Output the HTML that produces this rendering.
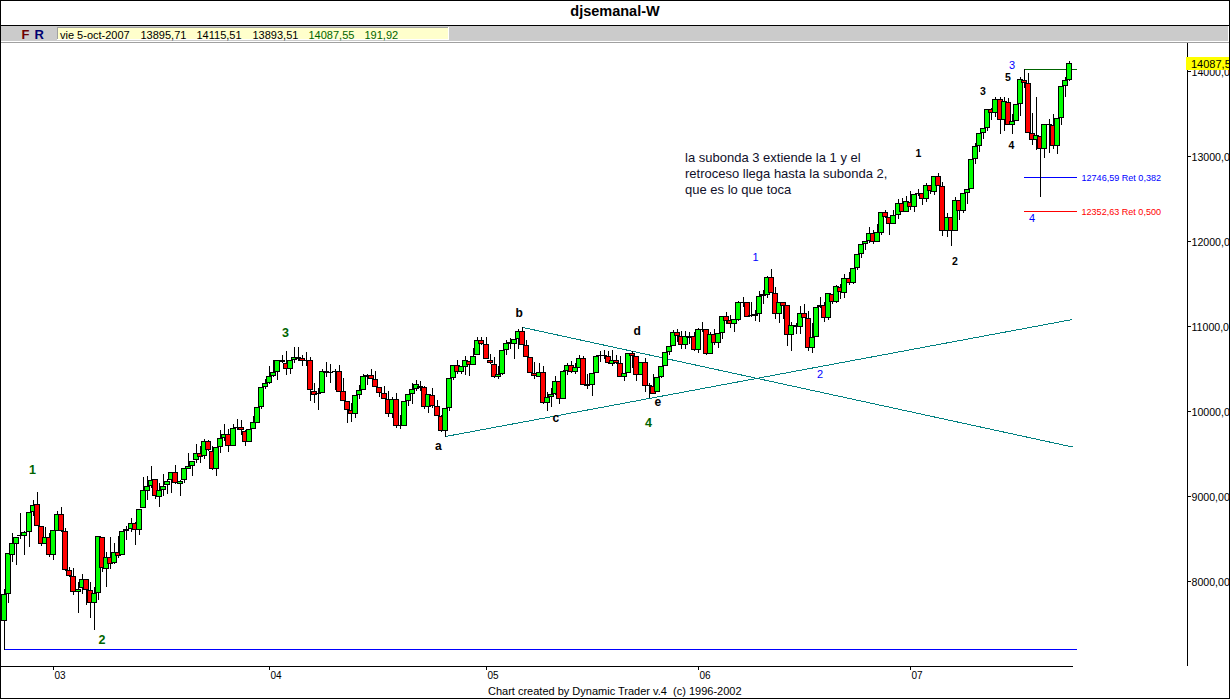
<!DOCTYPE html>
<html><head><meta charset="utf-8"><title>djsemanal-W</title>
<style>
html,body{margin:0;padding:0;background:#fff;}
body{width:1230px;height:699px;overflow:hidden;position:relative;font-family:"Liberation Sans",sans-serif;}
svg{position:absolute;left:0;top:0;display:block}
svg text{font-family:"Liberation Sans",sans-serif;}
</style></head><body>
<svg width="1230" height="699" viewBox="0 0 1230 699" shape-rendering="crispEdges">
<rect x="0" y="0" width="1230" height="699" fill="#fff"/>
<!-- toolbar -->
<rect x="1" y="26" width="1227" height="15" fill="#CBCBCB"/>
<rect x="1228" y="26" width="1" height="16" fill="#fff"/>
<rect x="1" y="41" width="1228" height="1" fill="#fff"/>
<rect x="1" y="42" width="1228" height="1" fill="#A0A0A0"/>
<rect x="57" y="27" width="391" height="12" fill="#A0A0A0"/>
<rect x="58" y="28" width="390" height="11" fill="#FFFFCC"/>
<rect x="448" y="27" width="1" height="13" fill="#fff"/>
<rect x="57" y="39" width="392" height="1" fill="#fff"/>
<rect x="0" y="25" width="1230" height="1" fill="#000"/>
<!-- frame -->
<rect x="0" y="0" width="1230" height="1" fill="#000"/>
<rect x="0" y="0" width="1" height="699" fill="#000"/>
<rect x="1229" y="0" width="1" height="699" fill="#000"/>
<rect x="0" y="698" width="1230" height="1" fill="#000"/>
<text x="615" y="16" font-size="14.5" font-weight="bold" text-anchor="middle" fill="#000">djsemanal-W</text>
<text x="21.5" y="39" font-size="13" font-weight="bold" fill="#6E0000">F</text>
<text x="34.5" y="39" font-size="13" font-weight="bold" fill="#000070">R</text>
<g font-size="11" fill="#000">
<text x="60" y="38.5">vie 5-oct-2007</text>
<text x="140.5" y="38.5">13895,71</text>
<text x="196.5" y="38.5">14115,51</text>
<text x="252.5" y="38.5">13893,51</text>
<text x="308.5" y="38.5" fill="#006400">14087,55</text>
<text x="364.5" y="38.5" fill="#006400">191,92</text>
</g>
<!-- right axis -->
<rect x="1187" y="43" width="1" height="623" fill="#000"/>
<g fill="#000">
<rect x="1188" y="71" width="3" height="1"/><rect x="1188" y="156" width="3" height="1"/><rect x="1188" y="241" width="3" height="1"/><rect x="1188" y="326" width="3" height="1"/><rect x="1188" y="411" width="3" height="1"/><rect x="1188" y="496" width="3" height="1"/><rect x="1188" y="581" width="3" height="1"/>
</g>
<g font-size="10.6" fill="#000">
<text x="1191.5" y="76">14000,00</text><text x="1191.5" y="161">13000,00</text><text x="1191.5" y="246">12000,00</text><text x="1191.5" y="331">11000,00</text><text x="1191.5" y="416">10000,00</text><text x="1191.5" y="501">9000,00</text><text x="1191.5" y="586">8000,00</text>
</g>
<rect x="1186" y="57" width="43" height="13" fill="#FFFF00"/>
<text x="1191" y="67.5" font-size="11" fill="#000">14087,55</text>
<!-- x axis -->
<rect x="0" y="666" width="1073" height="1" fill="#000"/>
<g fill="#000">
<rect x="53" y="667" width="1" height="3"/><rect x="269" y="667" width="1" height="3"/><rect x="486" y="667" width="1" height="3"/><rect x="698" y="667" width="1" height="3"/><rect x="910" y="667" width="1" height="3"/>
</g>
<g font-size="10" fill="#000">
<text x="54.5" y="679">03</text><text x="270.5" y="679">04</text><text x="487.5" y="679">05</text><text x="699.5" y="679">06</text><text x="911.5" y="679">07</text>
</g>
<text x="488" y="695" font-size="11" fill="#000" xml:space="preserve">Chart created by Dynamic Trader v.4  (c) 1996-2002</text>
<!-- drawings -->
<rect x="4" y="649" width="1073" height="1" fill="#0000FF"/>
<g>
<line x1="445.5" y1="436.5" x2="1072.5" y2="319.5" stroke="#008080" stroke-width="1"/>
<line x1="523" y1="327.5" x2="1072.5" y2="447" stroke="#008080" stroke-width="1"/>
</g>
<rect x="1024" y="69" width="53" height="1" fill="#006400"/>
<rect x="1024" y="177" width="53" height="1" fill="#0000FF"/>
<rect x="1024" y="211" width="53" height="1" fill="#FF0000"/>
<!-- candles -->
<g fill="#000">
<rect x="4" y="589" width="1" height="61"/>
<rect x="1" y="594" width="6" height="27"/>
<rect x="2" y="595" width="4" height="25" fill="#00FF00"/>
<rect x="8" y="553" width="1" height="50"/>
<rect x="5" y="553" width="6" height="41"/>
<rect x="6" y="554" width="4" height="39" fill="#00FF00"/>
<rect x="12" y="533" width="1" height="29"/>
<rect x="9" y="543" width="6" height="12"/>
<rect x="10" y="544" width="4" height="10" fill="#00FF00"/>
<rect x="16" y="537" width="1" height="28"/>
<rect x="13" y="537" width="6" height="7"/>
<rect x="14" y="538" width="4" height="5" fill="#00FF00"/>
<rect x="20" y="513" width="1" height="26"/>
<rect x="17" y="535" width="6" height="1"/>
<rect x="24" y="531" width="1" height="24"/>
<rect x="21" y="532" width="6" height="4"/>
<rect x="22" y="533" width="4" height="2" fill="#00FF00"/>
<rect x="29" y="512" width="1" height="35"/>
<rect x="26" y="512" width="6" height="20"/>
<rect x="27" y="513" width="4" height="18" fill="#00FF00"/>
<rect x="33" y="500" width="1" height="16"/>
<rect x="30" y="505" width="6" height="7"/>
<rect x="31" y="506" width="4" height="5" fill="#00FF00"/>
<rect x="37" y="492" width="1" height="34"/>
<rect x="34" y="504" width="6" height="22"/>
<rect x="35" y="505" width="4" height="20" fill="#FF0000"/>
<rect x="41" y="526" width="1" height="20"/>
<rect x="38" y="526" width="6" height="18"/>
<rect x="39" y="527" width="4" height="16" fill="#FF0000"/>
<rect x="45" y="527" width="1" height="17"/>
<rect x="42" y="537" width="6" height="7"/>
<rect x="43" y="538" width="4" height="5" fill="#00FF00"/>
<rect x="49" y="533" width="1" height="24"/>
<rect x="46" y="537" width="6" height="18"/>
<rect x="47" y="538" width="4" height="16" fill="#FF0000"/>
<rect x="53" y="530" width="1" height="30"/>
<rect x="50" y="530" width="6" height="25"/>
<rect x="51" y="531" width="4" height="23" fill="#00FF00"/>
<rect x="57" y="511" width="1" height="20"/>
<rect x="54" y="514" width="6" height="17"/>
<rect x="55" y="515" width="4" height="15" fill="#00FF00"/>
<rect x="61" y="507" width="1" height="25"/>
<rect x="58" y="514" width="6" height="17"/>
<rect x="59" y="515" width="4" height="15" fill="#FF0000"/>
<rect x="65" y="528" width="1" height="43"/>
<rect x="62" y="531" width="6" height="39"/>
<rect x="63" y="532" width="4" height="37" fill="#FF0000"/>
<rect x="69" y="567" width="1" height="10"/>
<rect x="66" y="570" width="6" height="6"/>
<rect x="67" y="571" width="4" height="4" fill="#FF0000"/>
<rect x="73" y="568" width="1" height="27"/>
<rect x="70" y="576" width="6" height="16"/>
<rect x="71" y="577" width="4" height="14" fill="#FF0000"/>
<rect x="78" y="582" width="1" height="31"/>
<rect x="75" y="589" width="6" height="3"/>
<rect x="76" y="590" width="4" height="1" fill="#00FF00"/>
<rect x="82" y="574" width="1" height="20"/>
<rect x="79" y="579" width="6" height="9"/>
<rect x="80" y="580" width="4" height="7" fill="#00FF00"/>
<rect x="86" y="579" width="1" height="26"/>
<rect x="83" y="579" width="6" height="11"/>
<rect x="84" y="580" width="4" height="9" fill="#FF0000"/>
<rect x="90" y="582" width="1" height="36"/>
<rect x="87" y="590" width="6" height="13"/>
<rect x="88" y="591" width="4" height="11" fill="#FF0000"/>
<rect x="94" y="587" width="1" height="43"/>
<rect x="91" y="593" width="6" height="10"/>
<rect x="92" y="594" width="4" height="8" fill="#00FF00"/>
<rect x="98" y="536" width="1" height="64"/>
<rect x="95" y="536" width="6" height="57"/>
<rect x="96" y="537" width="4" height="55" fill="#00FF00"/>
<rect x="102" y="537" width="1" height="35"/>
<rect x="99" y="537" width="6" height="31"/>
<rect x="100" y="538" width="4" height="29" fill="#FF0000"/>
<rect x="106" y="552" width="1" height="35"/>
<rect x="103" y="557" width="6" height="12"/>
<rect x="104" y="558" width="4" height="10" fill="#00FF00"/>
<rect x="110" y="537" width="1" height="32"/>
<rect x="107" y="557" width="6" height="7"/>
<rect x="108" y="558" width="4" height="5" fill="#FF0000"/>
<rect x="114" y="543" width="1" height="21"/>
<rect x="111" y="552" width="6" height="11"/>
<rect x="112" y="553" width="4" height="9" fill="#00FF00"/>
<rect x="118" y="536" width="1" height="22"/>
<rect x="115" y="552" width="6" height="4"/>
<rect x="116" y="553" width="4" height="2" fill="#FF0000"/>
<rect x="122" y="531" width="1" height="24"/>
<rect x="119" y="531" width="6" height="24"/>
<rect x="120" y="532" width="4" height="22" fill="#00FF00"/>
<rect x="126" y="526" width="1" height="14"/>
<rect x="123" y="529" width="6" height="2"/>
<rect x="131" y="518" width="1" height="14"/>
<rect x="128" y="523" width="6" height="6"/>
<rect x="129" y="524" width="4" height="4" fill="#00FF00"/>
<rect x="135" y="522" width="1" height="23"/>
<rect x="132" y="523" width="6" height="7"/>
<rect x="133" y="524" width="4" height="5" fill="#FF0000"/>
<rect x="139" y="509" width="1" height="26"/>
<rect x="136" y="509" width="6" height="21"/>
<rect x="137" y="510" width="4" height="19" fill="#00FF00"/>
<rect x="143" y="477" width="1" height="31"/>
<rect x="140" y="490" width="6" height="18"/>
<rect x="141" y="491" width="4" height="16" fill="#00FF00"/>
<rect x="147" y="476" width="1" height="24"/>
<rect x="144" y="486" width="6" height="5"/>
<rect x="145" y="487" width="4" height="3" fill="#00FF00"/>
<rect x="151" y="466" width="1" height="22"/>
<rect x="148" y="480" width="6" height="6"/>
<rect x="149" y="481" width="4" height="4" fill="#00FF00"/>
<rect x="155" y="479" width="1" height="20"/>
<rect x="152" y="479" width="6" height="17"/>
<rect x="153" y="480" width="4" height="15" fill="#FF0000"/>
<rect x="159" y="483" width="1" height="24"/>
<rect x="156" y="490" width="6" height="7"/>
<rect x="157" y="491" width="4" height="5" fill="#00FF00"/>
<rect x="163" y="474" width="1" height="22"/>
<rect x="160" y="486" width="6" height="4"/>
<rect x="161" y="487" width="4" height="2" fill="#00FF00"/>
<rect x="167" y="479" width="1" height="15"/>
<rect x="164" y="481" width="6" height="4"/>
<rect x="165" y="482" width="4" height="2" fill="#00FF00"/>
<rect x="171" y="472" width="1" height="21"/>
<rect x="168" y="472" width="6" height="8"/>
<rect x="169" y="473" width="4" height="6" fill="#00FF00"/>
<rect x="175" y="465" width="1" height="19"/>
<rect x="172" y="472" width="6" height="11"/>
<rect x="173" y="473" width="4" height="9" fill="#FF0000"/>
<rect x="180" y="480" width="1" height="16"/>
<rect x="177" y="481" width="6" height="3"/>
<rect x="178" y="482" width="4" height="1" fill="#00FF00"/>
<rect x="184" y="468" width="1" height="15"/>
<rect x="181" y="468" width="6" height="12"/>
<rect x="182" y="469" width="4" height="10" fill="#00FF00"/>
<rect x="188" y="453" width="1" height="16"/>
<rect x="185" y="466" width="6" height="3"/>
<rect x="186" y="467" width="4" height="1" fill="#00FF00"/>
<rect x="192" y="461" width="1" height="15"/>
<rect x="189" y="461" width="6" height="5"/>
<rect x="190" y="462" width="4" height="3" fill="#00FF00"/>
<rect x="196" y="444" width="1" height="19"/>
<rect x="193" y="453" width="6" height="7"/>
<rect x="194" y="454" width="4" height="5" fill="#00FF00"/>
<rect x="200" y="446" width="1" height="17"/>
<rect x="197" y="453" width="6" height="4"/>
<rect x="198" y="454" width="4" height="2" fill="#FF0000"/>
<rect x="204" y="439" width="1" height="20"/>
<rect x="201" y="441" width="6" height="15"/>
<rect x="202" y="442" width="4" height="13" fill="#00FF00"/>
<rect x="208" y="440" width="1" height="11"/>
<rect x="205" y="441" width="6" height="9"/>
<rect x="206" y="442" width="4" height="7" fill="#FF0000"/>
<rect x="212" y="446" width="1" height="24"/>
<rect x="209" y="451" width="6" height="18"/>
<rect x="210" y="452" width="4" height="16" fill="#FF0000"/>
<rect x="216" y="447" width="1" height="29"/>
<rect x="213" y="447" width="6" height="22"/>
<rect x="214" y="448" width="4" height="20" fill="#00FF00"/>
<rect x="220" y="430" width="1" height="23"/>
<rect x="217" y="438" width="6" height="9"/>
<rect x="218" y="439" width="4" height="7" fill="#00FF00"/>
<rect x="224" y="424" width="1" height="17"/>
<rect x="221" y="434" width="6" height="4"/>
<rect x="222" y="435" width="4" height="2" fill="#00FF00"/>
<rect x="228" y="429" width="1" height="23"/>
<rect x="225" y="434" width="6" height="12"/>
<rect x="226" y="435" width="4" height="10" fill="#FF0000"/>
<rect x="233" y="424" width="1" height="22"/>
<rect x="230" y="428" width="6" height="18"/>
<rect x="231" y="429" width="4" height="16" fill="#00FF00"/>
<rect x="237" y="419" width="1" height="11"/>
<rect x="234" y="427" width="6" height="1"/>
<rect x="241" y="420" width="1" height="15"/>
<rect x="238" y="427" width="6" height="3"/>
<rect x="239" y="428" width="4" height="1" fill="#FF0000"/>
<rect x="245" y="430" width="1" height="16"/>
<rect x="242" y="431" width="6" height="11"/>
<rect x="243" y="432" width="4" height="9" fill="#FF0000"/>
<rect x="249" y="429" width="1" height="13"/>
<rect x="246" y="429" width="6" height="13"/>
<rect x="247" y="430" width="4" height="11" fill="#00FF00"/>
<rect x="253" y="416" width="1" height="13"/>
<rect x="250" y="422" width="6" height="7"/>
<rect x="251" y="423" width="4" height="5" fill="#00FF00"/>
<rect x="257" y="407" width="1" height="16"/>
<rect x="254" y="407" width="6" height="16"/>
<rect x="255" y="408" width="4" height="14" fill="#00FF00"/>
<rect x="261" y="387" width="1" height="22"/>
<rect x="258" y="387" width="6" height="20"/>
<rect x="259" y="388" width="4" height="18" fill="#00FF00"/>
<rect x="265" y="379" width="1" height="10"/>
<rect x="262" y="383" width="6" height="4"/>
<rect x="263" y="384" width="4" height="2" fill="#00FF00"/>
<rect x="269" y="366" width="1" height="18"/>
<rect x="266" y="376" width="6" height="7"/>
<rect x="267" y="377" width="4" height="5" fill="#00FF00"/>
<rect x="273" y="360" width="1" height="17"/>
<rect x="270" y="372" width="6" height="4"/>
<rect x="271" y="373" width="4" height="2" fill="#00FF00"/>
<rect x="277" y="360" width="1" height="20"/>
<rect x="274" y="360" width="6" height="12"/>
<rect x="275" y="361" width="4" height="10" fill="#00FF00"/>
<rect x="282" y="355" width="1" height="8"/>
<rect x="279" y="360" width="6" height="2"/>
<rect x="286" y="351" width="1" height="24"/>
<rect x="283" y="363" width="6" height="6"/>
<rect x="284" y="364" width="4" height="4" fill="#FF0000"/>
<rect x="290" y="360" width="1" height="14"/>
<rect x="287" y="360" width="6" height="9"/>
<rect x="288" y="361" width="4" height="7" fill="#00FF00"/>
<rect x="294" y="347" width="1" height="16"/>
<rect x="291" y="357" width="6" height="3"/>
<rect x="292" y="358" width="4" height="1" fill="#00FF00"/>
<rect x="298" y="347" width="1" height="14"/>
<rect x="295" y="357" width="6" height="2"/>
<rect x="302" y="355" width="1" height="11"/>
<rect x="299" y="358" width="6" height="3"/>
<rect x="300" y="359" width="4" height="1" fill="#FF0000"/>
<rect x="306" y="352" width="1" height="14"/>
<rect x="303" y="360" width="6" height="1"/>
<rect x="310" y="357" width="1" height="44"/>
<rect x="307" y="360" width="6" height="30"/>
<rect x="308" y="361" width="4" height="28" fill="#FF0000"/>
<rect x="314" y="383" width="1" height="20"/>
<rect x="311" y="391" width="6" height="4"/>
<rect x="312" y="392" width="4" height="2" fill="#FF0000"/>
<rect x="318" y="388" width="1" height="22"/>
<rect x="315" y="393" width="6" height="1"/>
<rect x="322" y="369" width="1" height="24"/>
<rect x="319" y="371" width="6" height="22"/>
<rect x="320" y="372" width="4" height="20" fill="#00FF00"/>
<rect x="326" y="362" width="1" height="15"/>
<rect x="323" y="371" width="6" height="2"/>
<rect x="330" y="364" width="1" height="19"/>
<rect x="327" y="372" width="6" height="1"/>
<rect x="335" y="369" width="1" height="21"/>
<rect x="332" y="371" width="6" height="1"/>
<rect x="339" y="365" width="1" height="27"/>
<rect x="336" y="371" width="6" height="21"/>
<rect x="337" y="372" width="4" height="19" fill="#FF0000"/>
<rect x="343" y="378" width="1" height="23"/>
<rect x="340" y="391" width="6" height="10"/>
<rect x="341" y="392" width="4" height="8" fill="#FF0000"/>
<rect x="347" y="401" width="1" height="22"/>
<rect x="344" y="401" width="6" height="9"/>
<rect x="345" y="402" width="4" height="7" fill="#FF0000"/>
<rect x="351" y="403" width="1" height="19"/>
<rect x="348" y="410" width="6" height="4"/>
<rect x="349" y="411" width="4" height="2" fill="#FF0000"/>
<rect x="355" y="395" width="1" height="23"/>
<rect x="352" y="395" width="6" height="19"/>
<rect x="353" y="396" width="4" height="17" fill="#00FF00"/>
<rect x="359" y="385" width="1" height="14"/>
<rect x="356" y="390" width="6" height="5"/>
<rect x="357" y="391" width="4" height="3" fill="#00FF00"/>
<rect x="363" y="374" width="1" height="16"/>
<rect x="360" y="376" width="6" height="14"/>
<rect x="361" y="377" width="4" height="12" fill="#00FF00"/>
<rect x="367" y="374" width="1" height="11"/>
<rect x="364" y="375" width="6" height="2"/>
<rect x="371" y="369" width="1" height="10"/>
<rect x="368" y="375" width="6" height="4"/>
<rect x="369" y="376" width="4" height="2" fill="#FF0000"/>
<rect x="375" y="371" width="1" height="16"/>
<rect x="372" y="379" width="6" height="8"/>
<rect x="373" y="380" width="4" height="6" fill="#FF0000"/>
<rect x="379" y="387" width="1" height="10"/>
<rect x="376" y="387" width="6" height="6"/>
<rect x="377" y="388" width="4" height="4" fill="#FF0000"/>
<rect x="384" y="386" width="1" height="13"/>
<rect x="381" y="393" width="6" height="6"/>
<rect x="382" y="394" width="4" height="4" fill="#FF0000"/>
<rect x="388" y="391" width="1" height="26"/>
<rect x="385" y="399" width="6" height="15"/>
<rect x="386" y="400" width="4" height="13" fill="#FF0000"/>
<rect x="392" y="397" width="1" height="21"/>
<rect x="389" y="399" width="6" height="15"/>
<rect x="390" y="400" width="4" height="13" fill="#00FF00"/>
<rect x="396" y="393" width="1" height="35"/>
<rect x="393" y="399" width="6" height="27"/>
<rect x="394" y="400" width="4" height="25" fill="#FF0000"/>
<rect x="400" y="415" width="1" height="14"/>
<rect x="397" y="425" width="6" height="1"/>
<rect x="404" y="401" width="1" height="25"/>
<rect x="401" y="401" width="6" height="25"/>
<rect x="402" y="402" width="4" height="23" fill="#00FF00"/>
<rect x="408" y="394" width="1" height="12"/>
<rect x="405" y="394" width="6" height="7"/>
<rect x="406" y="395" width="4" height="5" fill="#00FF00"/>
<rect x="412" y="383" width="1" height="21"/>
<rect x="409" y="389" width="6" height="5"/>
<rect x="410" y="390" width="4" height="3" fill="#00FF00"/>
<rect x="416" y="380" width="1" height="11"/>
<rect x="413" y="384" width="6" height="5"/>
<rect x="414" y="385" width="4" height="3" fill="#00FF00"/>
<rect x="420" y="381" width="1" height="10"/>
<rect x="417" y="386" width="6" height="2"/>
<rect x="424" y="386" width="1" height="23"/>
<rect x="421" y="387" width="6" height="20"/>
<rect x="422" y="388" width="4" height="18" fill="#FF0000"/>
<rect x="428" y="394" width="1" height="19"/>
<rect x="425" y="394" width="6" height="13"/>
<rect x="426" y="395" width="4" height="11" fill="#00FF00"/>
<rect x="432" y="388" width="1" height="20"/>
<rect x="429" y="395" width="6" height="11"/>
<rect x="430" y="396" width="4" height="9" fill="#FF0000"/>
<rect x="437" y="400" width="1" height="16"/>
<rect x="434" y="406" width="6" height="10"/>
<rect x="435" y="407" width="4" height="8" fill="#FF0000"/>
<rect x="441" y="415" width="1" height="17"/>
<rect x="438" y="416" width="6" height="15"/>
<rect x="439" y="417" width="4" height="13" fill="#FF0000"/>
<rect x="445" y="408" width="1" height="29"/>
<rect x="442" y="408" width="6" height="23"/>
<rect x="443" y="409" width="4" height="21" fill="#00FF00"/>
<rect x="449" y="378" width="1" height="33"/>
<rect x="446" y="378" width="6" height="30"/>
<rect x="447" y="379" width="4" height="28" fill="#00FF00"/>
<rect x="453" y="365" width="1" height="15"/>
<rect x="450" y="365" width="6" height="13"/>
<rect x="451" y="366" width="4" height="11" fill="#00FF00"/>
<rect x="457" y="360" width="1" height="14"/>
<rect x="454" y="365" width="6" height="7"/>
<rect x="455" y="366" width="4" height="5" fill="#FF0000"/>
<rect x="461" y="366" width="1" height="8"/>
<rect x="458" y="366" width="6" height="6"/>
<rect x="459" y="367" width="4" height="4" fill="#00FF00"/>
<rect x="465" y="356" width="1" height="19"/>
<rect x="462" y="360" width="6" height="7"/>
<rect x="463" y="361" width="4" height="5" fill="#00FF00"/>
<rect x="469" y="361" width="1" height="15"/>
<rect x="466" y="361" width="6" height="4"/>
<rect x="467" y="362" width="4" height="2" fill="#FF0000"/>
<rect x="473" y="348" width="1" height="17"/>
<rect x="470" y="356" width="6" height="9"/>
<rect x="471" y="357" width="4" height="7" fill="#00FF00"/>
<rect x="477" y="337" width="1" height="18"/>
<rect x="474" y="340" width="6" height="15"/>
<rect x="475" y="341" width="4" height="13" fill="#00FF00"/>
<rect x="481" y="337" width="1" height="8"/>
<rect x="478" y="340" width="6" height="4"/>
<rect x="479" y="341" width="4" height="2" fill="#FF0000"/>
<rect x="486" y="337" width="1" height="22"/>
<rect x="483" y="344" width="6" height="15"/>
<rect x="484" y="345" width="4" height="13" fill="#FF0000"/>
<rect x="490" y="354" width="1" height="10"/>
<rect x="487" y="360" width="6" height="3"/>
<rect x="488" y="361" width="4" height="1" fill="#FF0000"/>
<rect x="494" y="357" width="1" height="21"/>
<rect x="491" y="364" width="6" height="13"/>
<rect x="492" y="365" width="4" height="11" fill="#FF0000"/>
<rect x="498" y="366" width="1" height="13"/>
<rect x="495" y="374" width="6" height="3"/>
<rect x="496" y="375" width="4" height="1" fill="#00FF00"/>
<rect x="502" y="350" width="1" height="25"/>
<rect x="499" y="350" width="6" height="24"/>
<rect x="500" y="351" width="4" height="22" fill="#00FF00"/>
<rect x="506" y="340" width="1" height="15"/>
<rect x="503" y="343" width="6" height="7"/>
<rect x="504" y="344" width="4" height="5" fill="#00FF00"/>
<rect x="510" y="338" width="1" height="11"/>
<rect x="507" y="342" width="6" height="2"/>
<rect x="514" y="339" width="1" height="20"/>
<rect x="511" y="339" width="6" height="5"/>
<rect x="512" y="340" width="4" height="3" fill="#00FF00"/>
<rect x="518" y="329" width="1" height="20"/>
<rect x="515" y="331" width="6" height="8"/>
<rect x="516" y="332" width="4" height="6" fill="#00FF00"/>
<rect x="522" y="327" width="1" height="18"/>
<rect x="519" y="331" width="6" height="14"/>
<rect x="520" y="332" width="4" height="12" fill="#FF0000"/>
<rect x="526" y="340" width="1" height="17"/>
<rect x="523" y="345" width="6" height="12"/>
<rect x="524" y="346" width="4" height="10" fill="#FF0000"/>
<rect x="530" y="357" width="1" height="16"/>
<rect x="527" y="357" width="6" height="16"/>
<rect x="528" y="358" width="4" height="14" fill="#FF0000"/>
<rect x="534" y="362" width="1" height="17"/>
<rect x="531" y="373" width="6" height="3"/>
<rect x="532" y="374" width="4" height="1" fill="#FF0000"/>
<rect x="539" y="363" width="1" height="14"/>
<rect x="536" y="372" width="6" height="5"/>
<rect x="537" y="373" width="4" height="3" fill="#00FF00"/>
<rect x="543" y="366" width="1" height="38"/>
<rect x="540" y="372" width="6" height="31"/>
<rect x="541" y="373" width="4" height="29" fill="#FF0000"/>
<rect x="547" y="392" width="1" height="19"/>
<rect x="544" y="397" width="6" height="6"/>
<rect x="545" y="398" width="4" height="4" fill="#00FF00"/>
<rect x="551" y="388" width="1" height="19"/>
<rect x="548" y="394" width="6" height="3"/>
<rect x="549" y="395" width="4" height="1" fill="#00FF00"/>
<rect x="555" y="376" width="1" height="19"/>
<rect x="552" y="381" width="6" height="13"/>
<rect x="553" y="382" width="4" height="11" fill="#00FF00"/>
<rect x="559" y="381" width="1" height="23"/>
<rect x="556" y="381" width="6" height="18"/>
<rect x="557" y="382" width="4" height="16" fill="#FF0000"/>
<rect x="563" y="370" width="1" height="29"/>
<rect x="560" y="371" width="6" height="28"/>
<rect x="561" y="372" width="4" height="26" fill="#00FF00"/>
<rect x="567" y="363" width="1" height="12"/>
<rect x="564" y="365" width="6" height="6"/>
<rect x="565" y="366" width="4" height="4" fill="#00FF00"/>
<rect x="571" y="361" width="1" height="12"/>
<rect x="568" y="365" width="6" height="7"/>
<rect x="569" y="366" width="4" height="5" fill="#FF0000"/>
<rect x="575" y="363" width="1" height="11"/>
<rect x="572" y="367" width="6" height="5"/>
<rect x="573" y="368" width="4" height="3" fill="#00FF00"/>
<rect x="579" y="355" width="1" height="13"/>
<rect x="576" y="358" width="6" height="10"/>
<rect x="577" y="359" width="4" height="8" fill="#00FF00"/>
<rect x="583" y="356" width="1" height="29"/>
<rect x="580" y="358" width="6" height="27"/>
<rect x="581" y="359" width="4" height="25" fill="#FF0000"/>
<rect x="587" y="374" width="1" height="15"/>
<rect x="584" y="384" width="6" height="2"/>
<rect x="592" y="373" width="1" height="23"/>
<rect x="589" y="373" width="6" height="12"/>
<rect x="590" y="374" width="4" height="10" fill="#00FF00"/>
<rect x="596" y="355" width="1" height="18"/>
<rect x="593" y="356" width="6" height="17"/>
<rect x="594" y="357" width="4" height="15" fill="#00FF00"/>
<rect x="600" y="351" width="1" height="11"/>
<rect x="597" y="355" width="6" height="1"/>
<rect x="604" y="350" width="1" height="9"/>
<rect x="601" y="355" width="6" height="1"/>
<rect x="608" y="351" width="1" height="13"/>
<rect x="605" y="356" width="6" height="7"/>
<rect x="606" y="357" width="4" height="5" fill="#FF0000"/>
<rect x="612" y="350" width="1" height="16"/>
<rect x="609" y="360" width="6" height="4"/>
<rect x="610" y="361" width="4" height="2" fill="#00FF00"/>
<rect x="616" y="355" width="1" height="9"/>
<rect x="613" y="360" width="6" height="3"/>
<rect x="614" y="361" width="4" height="1" fill="#FF0000"/>
<rect x="620" y="356" width="1" height="21"/>
<rect x="617" y="363" width="6" height="14"/>
<rect x="618" y="364" width="4" height="12" fill="#FF0000"/>
<rect x="624" y="373" width="1" height="8"/>
<rect x="621" y="373" width="6" height="4"/>
<rect x="622" y="374" width="4" height="2" fill="#00FF00"/>
<rect x="628" y="353" width="1" height="20"/>
<rect x="625" y="353" width="6" height="20"/>
<rect x="626" y="354" width="4" height="18" fill="#00FF00"/>
<rect x="632" y="351" width="1" height="17"/>
<rect x="629" y="353" width="6" height="3"/>
<rect x="630" y="354" width="4" height="1" fill="#FF0000"/>
<rect x="636" y="356" width="1" height="25"/>
<rect x="633" y="356" width="6" height="19"/>
<rect x="634" y="357" width="4" height="17" fill="#FF0000"/>
<rect x="641" y="362" width="1" height="13"/>
<rect x="638" y="362" width="6" height="13"/>
<rect x="639" y="363" width="4" height="11" fill="#00FF00"/>
<rect x="645" y="358" width="1" height="34"/>
<rect x="642" y="362" width="6" height="24"/>
<rect x="643" y="363" width="4" height="22" fill="#FF0000"/>
<rect x="649" y="383" width="1" height="15"/>
<rect x="646" y="385" width="6" height="1"/>
<rect x="653" y="374" width="1" height="20"/>
<rect x="650" y="386" width="6" height="8"/>
<rect x="651" y="387" width="4" height="6" fill="#FF0000"/>
<rect x="657" y="377" width="1" height="15"/>
<rect x="654" y="377" width="6" height="15"/>
<rect x="655" y="378" width="4" height="13" fill="#00FF00"/>
<rect x="661" y="366" width="1" height="12"/>
<rect x="658" y="366" width="6" height="11"/>
<rect x="659" y="367" width="4" height="9" fill="#00FF00"/>
<rect x="665" y="352" width="1" height="14"/>
<rect x="662" y="352" width="6" height="14"/>
<rect x="663" y="353" width="4" height="12" fill="#00FF00"/>
<rect x="669" y="346" width="1" height="9"/>
<rect x="666" y="346" width="6" height="6"/>
<rect x="667" y="347" width="4" height="4" fill="#00FF00"/>
<rect x="673" y="330" width="1" height="16"/>
<rect x="670" y="332" width="6" height="14"/>
<rect x="671" y="333" width="4" height="12" fill="#00FF00"/>
<rect x="677" y="329" width="1" height="13"/>
<rect x="674" y="332" width="6" height="4"/>
<rect x="675" y="333" width="4" height="2" fill="#FF0000"/>
<rect x="681" y="331" width="1" height="18"/>
<rect x="678" y="336" width="6" height="9"/>
<rect x="679" y="337" width="4" height="7" fill="#FF0000"/>
<rect x="685" y="331" width="1" height="18"/>
<rect x="682" y="336" width="6" height="9"/>
<rect x="683" y="337" width="4" height="7" fill="#00FF00"/>
<rect x="689" y="332" width="1" height="12"/>
<rect x="686" y="336" width="6" height="2"/>
<rect x="694" y="332" width="1" height="19"/>
<rect x="691" y="336" width="6" height="14"/>
<rect x="692" y="337" width="4" height="12" fill="#FF0000"/>
<rect x="698" y="328" width="1" height="25"/>
<rect x="695" y="329" width="6" height="21"/>
<rect x="696" y="330" width="4" height="19" fill="#00FF00"/>
<rect x="702" y="322" width="1" height="10"/>
<rect x="699" y="329" width="6" height="1"/>
<rect x="706" y="329" width="1" height="26"/>
<rect x="703" y="329" width="6" height="25"/>
<rect x="704" y="330" width="4" height="23" fill="#FF0000"/>
<rect x="710" y="332" width="1" height="22"/>
<rect x="707" y="334" width="6" height="20"/>
<rect x="708" y="335" width="4" height="18" fill="#00FF00"/>
<rect x="714" y="329" width="1" height="16"/>
<rect x="711" y="334" width="6" height="9"/>
<rect x="712" y="335" width="4" height="7" fill="#FF0000"/>
<rect x="718" y="333" width="1" height="15"/>
<rect x="715" y="333" width="6" height="10"/>
<rect x="716" y="334" width="4" height="8" fill="#00FF00"/>
<rect x="722" y="316" width="1" height="23"/>
<rect x="719" y="316" width="6" height="17"/>
<rect x="720" y="317" width="4" height="15" fill="#00FF00"/>
<rect x="726" y="312" width="1" height="12"/>
<rect x="723" y="316" width="6" height="5"/>
<rect x="724" y="317" width="4" height="3" fill="#FF0000"/>
<rect x="730" y="315" width="1" height="13"/>
<rect x="727" y="320" width="6" height="4"/>
<rect x="728" y="321" width="4" height="2" fill="#FF0000"/>
<rect x="734" y="319" width="1" height="13"/>
<rect x="731" y="319" width="6" height="5"/>
<rect x="732" y="320" width="4" height="3" fill="#00FF00"/>
<rect x="738" y="301" width="1" height="20"/>
<rect x="735" y="302" width="6" height="18"/>
<rect x="736" y="303" width="4" height="16" fill="#00FF00"/>
<rect x="743" y="297" width="1" height="10"/>
<rect x="740" y="302" width="6" height="1"/>
<rect x="747" y="302" width="1" height="15"/>
<rect x="744" y="302" width="6" height="15"/>
<rect x="745" y="303" width="4" height="13" fill="#FF0000"/>
<rect x="751" y="302" width="1" height="15"/>
<rect x="748" y="315" width="6" height="1"/>
<rect x="755" y="310" width="1" height="11"/>
<rect x="752" y="314" width="6" height="2"/>
<rect x="759" y="291" width="1" height="31"/>
<rect x="756" y="296" width="6" height="18"/>
<rect x="757" y="297" width="4" height="16" fill="#00FF00"/>
<rect x="763" y="290" width="1" height="14"/>
<rect x="760" y="294" width="6" height="2"/>
<rect x="767" y="276" width="1" height="22"/>
<rect x="764" y="277" width="6" height="18"/>
<rect x="765" y="278" width="4" height="16" fill="#00FF00"/>
<rect x="771" y="269" width="1" height="24"/>
<rect x="768" y="277" width="6" height="16"/>
<rect x="769" y="278" width="4" height="14" fill="#FF0000"/>
<rect x="775" y="287" width="1" height="32"/>
<rect x="772" y="293" width="6" height="21"/>
<rect x="773" y="294" width="4" height="19" fill="#FF0000"/>
<rect x="779" y="302" width="1" height="21"/>
<rect x="776" y="302" width="6" height="12"/>
<rect x="777" y="303" width="4" height="10" fill="#00FF00"/>
<rect x="783" y="302" width="1" height="17"/>
<rect x="780" y="302" width="6" height="4"/>
<rect x="781" y="303" width="4" height="2" fill="#FF0000"/>
<rect x="787" y="305" width="1" height="41"/>
<rect x="784" y="305" width="6" height="30"/>
<rect x="785" y="306" width="4" height="28" fill="#FF0000"/>
<rect x="791" y="322" width="1" height="29"/>
<rect x="788" y="325" width="6" height="10"/>
<rect x="789" y="326" width="4" height="8" fill="#00FF00"/>
<rect x="796" y="323" width="1" height="11"/>
<rect x="793" y="325" width="6" height="2"/>
<rect x="800" y="306" width="1" height="28"/>
<rect x="797" y="313" width="6" height="14"/>
<rect x="798" y="314" width="4" height="12" fill="#00FF00"/>
<rect x="804" y="304" width="1" height="14"/>
<rect x="801" y="313" width="6" height="5"/>
<rect x="802" y="314" width="4" height="3" fill="#FF0000"/>
<rect x="808" y="311" width="1" height="40"/>
<rect x="805" y="318" width="6" height="30"/>
<rect x="806" y="319" width="4" height="28" fill="#FF0000"/>
<rect x="812" y="323" width="1" height="30"/>
<rect x="809" y="337" width="6" height="11"/>
<rect x="810" y="338" width="4" height="9" fill="#00FF00"/>
<rect x="816" y="307" width="1" height="30"/>
<rect x="813" y="307" width="6" height="30"/>
<rect x="814" y="308" width="4" height="28" fill="#00FF00"/>
<rect x="820" y="297" width="1" height="11"/>
<rect x="817" y="305" width="6" height="2"/>
<rect x="824" y="302" width="1" height="20"/>
<rect x="821" y="305" width="6" height="13"/>
<rect x="822" y="306" width="4" height="11" fill="#FF0000"/>
<rect x="828" y="293" width="1" height="27"/>
<rect x="825" y="293" width="6" height="25"/>
<rect x="826" y="294" width="4" height="23" fill="#00FF00"/>
<rect x="832" y="294" width="1" height="10"/>
<rect x="829" y="294" width="6" height="8"/>
<rect x="830" y="295" width="4" height="6" fill="#FF0000"/>
<rect x="836" y="285" width="1" height="18"/>
<rect x="833" y="286" width="6" height="16"/>
<rect x="834" y="287" width="4" height="14" fill="#00FF00"/>
<rect x="840" y="284" width="1" height="15"/>
<rect x="837" y="287" width="6" height="5"/>
<rect x="838" y="288" width="4" height="3" fill="#FF0000"/>
<rect x="844" y="274" width="1" height="24"/>
<rect x="841" y="278" width="6" height="15"/>
<rect x="842" y="279" width="4" height="13" fill="#00FF00"/>
<rect x="849" y="272" width="1" height="13"/>
<rect x="846" y="278" width="6" height="5"/>
<rect x="847" y="279" width="4" height="3" fill="#FF0000"/>
<rect x="853" y="268" width="1" height="16"/>
<rect x="850" y="268" width="6" height="15"/>
<rect x="851" y="269" width="4" height="13" fill="#00FF00"/>
<rect x="857" y="254" width="1" height="16"/>
<rect x="854" y="254" width="6" height="14"/>
<rect x="855" y="255" width="4" height="12" fill="#00FF00"/>
<rect x="861" y="244" width="1" height="14"/>
<rect x="858" y="244" width="6" height="10"/>
<rect x="859" y="245" width="4" height="8" fill="#00FF00"/>
<rect x="865" y="241" width="1" height="9"/>
<rect x="862" y="241" width="6" height="3"/>
<rect x="863" y="242" width="4" height="1" fill="#00FF00"/>
<rect x="869" y="227" width="1" height="16"/>
<rect x="866" y="233" width="6" height="8"/>
<rect x="867" y="234" width="4" height="6" fill="#00FF00"/>
<rect x="873" y="230" width="1" height="14"/>
<rect x="870" y="233" width="6" height="9"/>
<rect x="871" y="234" width="4" height="7" fill="#FF0000"/>
<rect x="877" y="224" width="1" height="18"/>
<rect x="874" y="232" width="6" height="10"/>
<rect x="875" y="233" width="4" height="8" fill="#00FF00"/>
<rect x="881" y="212" width="1" height="23"/>
<rect x="878" y="212" width="6" height="21"/>
<rect x="879" y="213" width="4" height="19" fill="#00FF00"/>
<rect x="885" y="210" width="1" height="8"/>
<rect x="882" y="212" width="6" height="5"/>
<rect x="883" y="213" width="4" height="3" fill="#FF0000"/>
<rect x="889" y="217" width="1" height="18"/>
<rect x="886" y="217" width="6" height="7"/>
<rect x="887" y="218" width="4" height="5" fill="#FF0000"/>
<rect x="893" y="210" width="1" height="14"/>
<rect x="890" y="215" width="6" height="9"/>
<rect x="891" y="216" width="4" height="7" fill="#00FF00"/>
<rect x="898" y="199" width="1" height="20"/>
<rect x="895" y="203" width="6" height="12"/>
<rect x="896" y="204" width="4" height="10" fill="#00FF00"/>
<rect x="902" y="198" width="1" height="14"/>
<rect x="899" y="203" width="6" height="9"/>
<rect x="900" y="204" width="4" height="7" fill="#FF0000"/>
<rect x="906" y="196" width="1" height="16"/>
<rect x="903" y="201" width="6" height="11"/>
<rect x="904" y="202" width="4" height="9" fill="#00FF00"/>
<rect x="910" y="191" width="1" height="19"/>
<rect x="907" y="202" width="6" height="5"/>
<rect x="908" y="203" width="4" height="3" fill="#FF0000"/>
<rect x="914" y="194" width="1" height="18"/>
<rect x="911" y="194" width="6" height="13"/>
<rect x="912" y="195" width="4" height="11" fill="#00FF00"/>
<rect x="918" y="189" width="1" height="7"/>
<rect x="915" y="193" width="6" height="1"/>
<rect x="922" y="193" width="1" height="12"/>
<rect x="919" y="193" width="6" height="6"/>
<rect x="920" y="194" width="4" height="4" fill="#FF0000"/>
<rect x="926" y="183" width="1" height="19"/>
<rect x="923" y="185" width="6" height="14"/>
<rect x="924" y="186" width="4" height="12" fill="#00FF00"/>
<rect x="930" y="185" width="1" height="9"/>
<rect x="927" y="185" width="6" height="6"/>
<rect x="928" y="186" width="4" height="4" fill="#FF0000"/>
<rect x="934" y="176" width="1" height="19"/>
<rect x="931" y="176" width="6" height="16"/>
<rect x="932" y="177" width="4" height="14" fill="#00FF00"/>
<rect x="938" y="173" width="1" height="13"/>
<rect x="935" y="176" width="6" height="10"/>
<rect x="936" y="177" width="4" height="8" fill="#FF0000"/>
<rect x="942" y="182" width="1" height="54"/>
<rect x="939" y="186" width="6" height="45"/>
<rect x="940" y="187" width="4" height="43" fill="#FF0000"/>
<rect x="947" y="213" width="1" height="24"/>
<rect x="944" y="217" width="6" height="14"/>
<rect x="945" y="218" width="4" height="12" fill="#00FF00"/>
<rect x="951" y="217" width="1" height="29"/>
<rect x="948" y="217" width="6" height="14"/>
<rect x="949" y="218" width="4" height="12" fill="#FF0000"/>
<rect x="955" y="197" width="1" height="34"/>
<rect x="952" y="200" width="6" height="31"/>
<rect x="953" y="201" width="4" height="29" fill="#00FF00"/>
<rect x="959" y="200" width="1" height="20"/>
<rect x="956" y="200" width="6" height="11"/>
<rect x="957" y="201" width="4" height="9" fill="#FF0000"/>
<rect x="963" y="193" width="1" height="20"/>
<rect x="960" y="193" width="6" height="18"/>
<rect x="961" y="194" width="4" height="16" fill="#00FF00"/>
<rect x="967" y="189" width="1" height="15"/>
<rect x="964" y="189" width="6" height="4"/>
<rect x="965" y="190" width="4" height="2" fill="#00FF00"/>
<rect x="971" y="159" width="1" height="30"/>
<rect x="968" y="159" width="6" height="30"/>
<rect x="969" y="160" width="4" height="28" fill="#00FF00"/>
<rect x="975" y="143" width="1" height="21"/>
<rect x="972" y="146" width="6" height="13"/>
<rect x="973" y="147" width="4" height="11" fill="#00FF00"/>
<rect x="979" y="133" width="1" height="19"/>
<rect x="976" y="133" width="6" height="13"/>
<rect x="977" y="134" width="4" height="11" fill="#00FF00"/>
<rect x="983" y="128" width="1" height="11"/>
<rect x="980" y="128" width="6" height="5"/>
<rect x="981" y="129" width="4" height="3" fill="#00FF00"/>
<rect x="987" y="109" width="1" height="22"/>
<rect x="984" y="109" width="6" height="19"/>
<rect x="985" y="110" width="4" height="17" fill="#00FF00"/>
<rect x="991" y="108" width="1" height="12"/>
<rect x="988" y="109" width="6" height="4"/>
<rect x="989" y="110" width="4" height="2" fill="#FF0000"/>
<rect x="995" y="97" width="1" height="20"/>
<rect x="992" y="99" width="6" height="14"/>
<rect x="993" y="100" width="4" height="12" fill="#00FF00"/>
<rect x="1000" y="97" width="1" height="37"/>
<rect x="997" y="99" width="6" height="21"/>
<rect x="998" y="100" width="4" height="19" fill="#FF0000"/>
<rect x="1004" y="97" width="1" height="34"/>
<rect x="1001" y="101" width="6" height="19"/>
<rect x="1002" y="102" width="4" height="17" fill="#00FF00"/>
<rect x="1008" y="98" width="1" height="27"/>
<rect x="1005" y="102" width="6" height="23"/>
<rect x="1006" y="103" width="4" height="21" fill="#FF0000"/>
<rect x="1012" y="114" width="1" height="20"/>
<rect x="1009" y="121" width="6" height="4"/>
<rect x="1010" y="122" width="4" height="2" fill="#00FF00"/>
<rect x="1016" y="104" width="1" height="17"/>
<rect x="1013" y="104" width="6" height="17"/>
<rect x="1014" y="105" width="4" height="15" fill="#00FF00"/>
<rect x="1020" y="77" width="1" height="39"/>
<rect x="1017" y="79" width="6" height="25"/>
<rect x="1018" y="80" width="4" height="23" fill="#00FF00"/>
<rect x="1024" y="69" width="1" height="19"/>
<rect x="1021" y="80" width="6" height="3"/>
<rect x="1022" y="81" width="4" height="1" fill="#FF0000"/>
<rect x="1028" y="73" width="1" height="60"/>
<rect x="1025" y="83" width="6" height="50"/>
<rect x="1026" y="84" width="4" height="48" fill="#FF0000"/>
<rect x="1032" y="113" width="1" height="32"/>
<rect x="1029" y="133" width="6" height="7"/>
<rect x="1030" y="134" width="4" height="5" fill="#FF0000"/>
<rect x="1036" y="97" width="1" height="53"/>
<rect x="1033" y="135" width="6" height="5"/>
<rect x="1034" y="136" width="4" height="3" fill="#00FF00"/>
<rect x="1040" y="136" width="1" height="61"/>
<rect x="1037" y="136" width="6" height="13"/>
<rect x="1038" y="137" width="4" height="11" fill="#FF0000"/>
<rect x="1044" y="124" width="1" height="34"/>
<rect x="1041" y="124" width="6" height="25"/>
<rect x="1042" y="125" width="4" height="23" fill="#00FF00"/>
<rect x="1049" y="119" width="1" height="34"/>
<rect x="1046" y="124" width="6" height="1"/>
<rect x="1053" y="114" width="1" height="35"/>
<rect x="1050" y="125" width="6" height="21"/>
<rect x="1051" y="126" width="4" height="19" fill="#FF0000"/>
<rect x="1057" y="118" width="1" height="36"/>
<rect x="1054" y="118" width="6" height="28"/>
<rect x="1055" y="119" width="4" height="26" fill="#00FF00"/>
<rect x="1061" y="86" width="1" height="39"/>
<rect x="1058" y="86" width="6" height="32"/>
<rect x="1059" y="87" width="4" height="30" fill="#00FF00"/>
<rect x="1065" y="77" width="1" height="20"/>
<rect x="1062" y="80" width="6" height="6"/>
<rect x="1063" y="81" width="4" height="4" fill="#00FF00"/>
<rect x="1069" y="61" width="1" height="20"/>
<rect x="1066" y="63" width="6" height="17"/>
<rect x="1067" y="64" width="4" height="15" fill="#00FF00"/>
</g>
<!-- labels -->
<g font-size="12.5" font-weight="bold" fill="#006400">
<text x="29" y="474">1</text>
<text x="98.5" y="643.5">2</text>
<text x="282" y="337">3</text>
<text x="645" y="427">4</text>
</g>
<g font-size="12" font-weight="bold" fill="#000">
<text x="435" y="450">a</text>
<text x="515.5" y="317">b</text>
<text x="552.5" y="422">c</text>
<text x="633.5" y="335">d</text>
<text x="654.5" y="405.5">e</text>
</g>
<g font-size="10.5" font-weight="bold" fill="#000">
<text x="915.5" y="157">1</text>
<text x="952" y="265">2</text>
<text x="980" y="94.5">3</text>
<text x="1005" y="80.5">5</text>
<text x="1008.5" y="149">4</text>
</g>
<g font-size="11" fill="#0000FF">
<text x="752.5" y="261">1</text>
<text x="817" y="378">2</text>
<text x="1009" y="69">3</text>
<text x="1029" y="222">4</text>
</g>
<g font-size="9.1" >
<text x="1081.5" y="181" font-size="9.8" textLength="79.5" lengthAdjust="spacingAndGlyphs" fill="#0000FF">12746,59 Ret 0,382</text>
<text x="1081.5" y="215" font-size="9.8" textLength="79.5" lengthAdjust="spacingAndGlyphs" fill="#FF0000">12352,63 Ret 0,500</text>
</g>
<g font-size="13" fill="#10102a">
<text x="685" y="162">la subonda 3 extiende la 1 y el</text>
<text x="685" y="178">retroceso llega hasta la subonda 2,</text>
<text x="685" y="193.5">que es lo que toca</text>
</g>
<rect x="1229" y="0" width="1" height="699" fill="#000"/>
</svg>
</body></html>
